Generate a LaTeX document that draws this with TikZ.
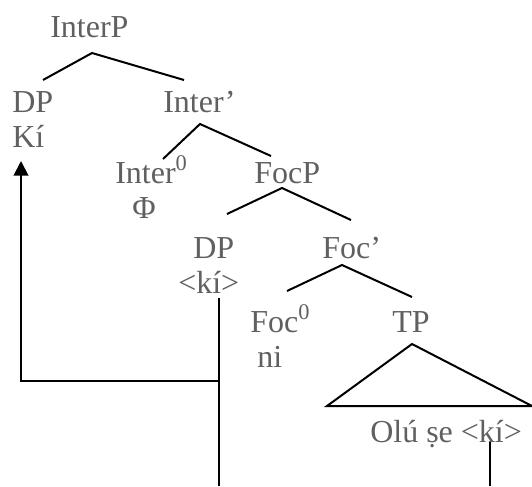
\documentclass[tikz,border=0pt]{standalone}
\usepackage{fontspec}
\setmainfont{Liberation Serif}
\usetikzlibrary{arrows.meta}
\definecolor{labelgray}{RGB}{96,96,96}

\begin{document}
\begin{tikzpicture}[
    x=0.75pt, y=-0.75pt,
    lbl/.style={anchor=base west, inner sep=0pt, text=labelgray, font=\fontsize{24}{28}\selectfont},
    branch/.style={line width=1.5pt},
    arrow/.style={line width=1.5pt, -{Triangle[length=11pt, width=11pt]}}
]
    \useasboundingbox (0,0) rectangle (532,486);

    % category labels
    \node[lbl] (interp) at (50,37) {InterP};
    \node[lbl] (whdp) at (12,112) {DP};
    \node[lbl] (wh) at (12,147) {Kí};
    \node[lbl] (interbar) at (163,112) {Inter’};
    \node[lbl] (interhead) at (115,183) {Inter\textsuperscript{0}};
    \node[lbl] (nullop) at (132,218) {Φ};
    \node[lbl] (focp) at (254,183) {FocP};
    \node[lbl] (tracedp) at (193,258) {DP};
    \node[lbl] (trace) at (178,293) {<kí>};
    \node[lbl] (focbar) at (322,258) {Foc’};
    \node[lbl] (fochead) at (250,332) {Foc\textsuperscript{0}};
    \node[lbl] (foc) at (257,367) {ni};
    \node[lbl] (tp) at (392,332) {TP};
    \node[lbl] (clause) at (370,442) {Olú ṣe <kí>};

    % branch points
    \coordinate (interp-b) at (92,53);
    \coordinate (interp-l) at (43,80);
    \coordinate (interp-r) at (184,80);
    \coordinate (interbar-b) at (200,124);
    \coordinate (interbar-l) at (163,159);
    \coordinate (interbar-r) at (271,156);
    \coordinate (focp-b) at (282,188);
    \coordinate (focp-l) at (227,214);
    \coordinate (focp-r) at (351,220);
    \coordinate (focbar-b) at (342,265);
    \coordinate (focbar-l) at (287,291);
    \coordinate (focbar-r) at (412,297);
    \coordinate (tp-top) at (412,344);
    \coordinate (tp-l) at (327,406);
    \coordinate (tp-r) at (532,406);

    \draw[branch] (interp-l) -- (interp-b) -- (interp-r);
    \draw[branch] (interbar-l) -- (interbar-b) -- (interbar-r);
    \draw[branch] (focp-l) -- (focp-b) -- (focp-r);
    \draw[branch] (focbar-l) -- (focbar-b) -- (focbar-r);
    \draw[branch] (tp-top) -- (tp-l) -- (tp-r) -- cycle;

    % movement lines
    \coordinate (trace-top) at (219,298);
    \coordinate (trace-end) at (219,486);
    \coordinate (move-turn) at (219,381);
    \coordinate (move-tip) at (21,161);
    \coordinate (clause-top) at (490,442);
    \coordinate (clause-end) at (490,486);

    \draw[branch] (trace-top) -- (trace-end);
    \draw[arrow] (move-turn) -| (move-tip);
    \draw[branch] (clause-top) -- (clause-end);
\end{tikzpicture}
\end{document}
